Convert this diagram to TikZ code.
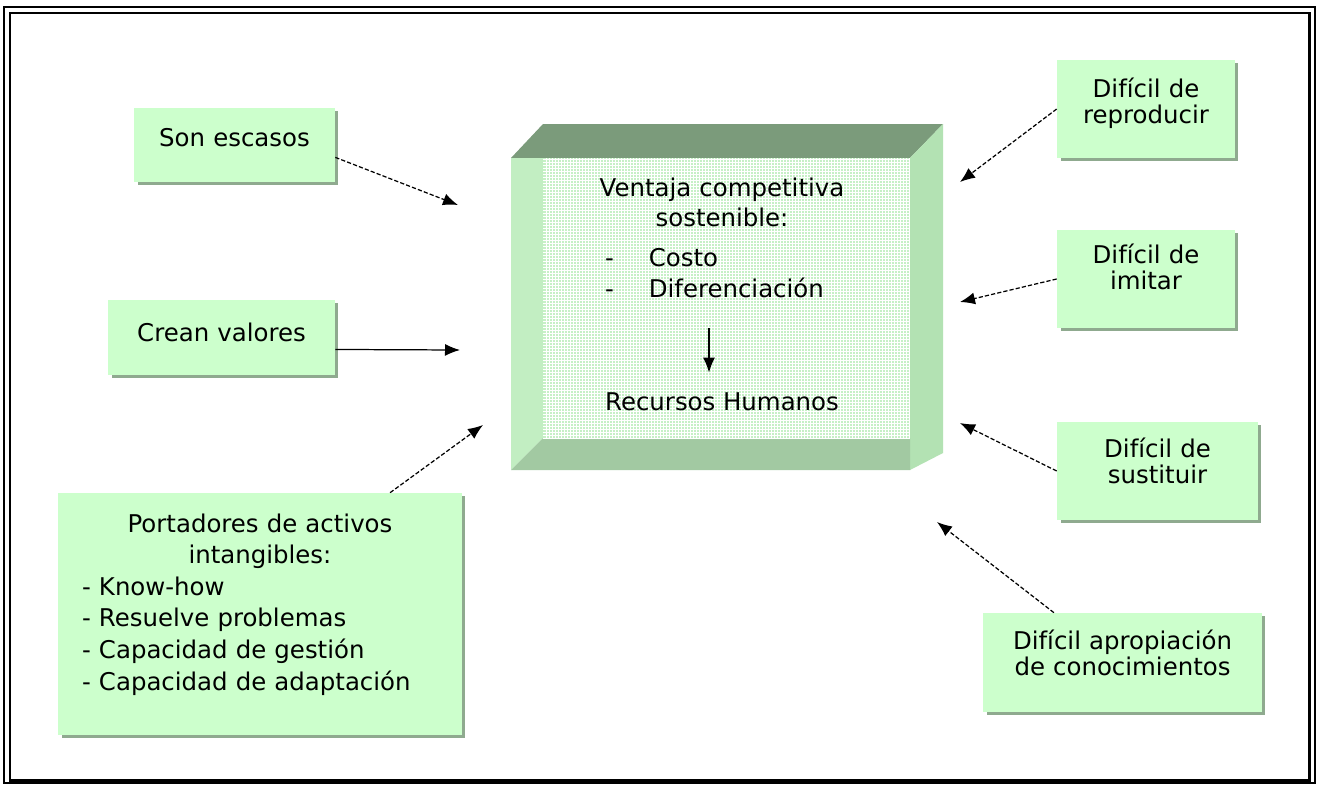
\documentclass[tikz,border=0pt]{standalone}
\usepackage{fontspec}
\setmainfont{DejaVu Sans}
\usetikzlibrary{arrows.meta,shadows}
\definecolor{verdecaja}{HTML}{CCFFCC}
\definecolor{sombra}{HTML}{8FAA8F}
\definecolor{tapa}{HTML}{7B9B7B}
\definecolor{lado}{HTML}{B3E2B3}
\definecolor{ladoizq}{HTML}{C2EEC2}
\definecolor{base}{HTML}{A2C9A2}
\definecolor{cara}{HTML}{C6F0C6}
\newcommand{\guion}[1]{\makebox[\linewidth][l]{\hspace{0.48cm}- #1}}
\newcommand{\guioncara}[1]{\makebox[\linewidth][l]{\hspace{0.66cm}-\hspace{0.7cm}#1}}
\begin{document}
\begin{tikzpicture}[x=0.02cm, y=-0.02cm,
    caja/.style={fill=verdecaja, inner sep=0pt, align=center,
      font=\fontsize{13.9}{14.8}\selectfont,
      drop shadow={shadow xshift=0.07cm, shadow yshift=-0.06cm, fill=sombra, opacity=1}},
    texto/.style={inner sep=0pt, align=center, font=\fontsize{13.9}{17.6}\selectfont},
    flecha/.style={dash pattern=on 2.4pt off 1.2pt, line width=0.7pt, -{Latex[length=0.3cm, width=0.24cm]}},
    punta/.style={line width=0.9pt, -{Latex[length=0.3cm, width=0.24cm]}}]
  \useasboundingbox (0,0) rectangle (1319,785);
  \fill[white] (0,0) rectangle (1319,785);
  \draw[line width=0.6pt] (4,7) rectangle (1315,783);
  \draw[line width=1.7pt] (10,13) rectangle (1309,780);

  % bloque central
  \fill[tapa] (511,158) -- (543,124) -- (943,124) -- (910,158) -- cycle;
  \fill[lado] (910,158) -- (943,124) -- (943,453) -- (910,470) -- cycle;
  \fill[ladoizq] (511,158) -- (543,158) -- (543,438) -- (511,470) -- cycle;
  \fill[base] (511,470) -- (543,438) -- (910,438) -- (910,470) -- cycle;
  \fill[cara] (543,158) rectangle (910,438);
  \draw[white, line width=0.3pt, step=0.06cm] (543,158) grid (910,438);

  \node[texto, text width=6cm, text depth=2.64cm, anchor=base] (ventaja) at (722,196)
    {Ventaja competitiva\\ sostenible:\\[0.18cm] \guioncara{Costo}\\ \guioncara{Diferenciación}};
  \node[texto, text height=0.74cm, anchor=base] (rrhh) at (722,410) {Recursos Humanos};
  \draw[punta] ([xshift=-0.26cm]ventaja.south) -- ([xshift=-0.26cm]rrhh.north);

  % cajas
  \node[caja, text width=4.02cm, text height=0.76cm, text depth=0.72cm] (escasos) at (234.5,145) {Son escasos};
  \node[caja, text width=4.54cm, text height=0.82cm, text depth=0.68cm] (valores) at (221.5,337.5) {Crean valores};
  \node[caja, text width=8.08cm, text height=0.78cm, text depth=4.06cm,
    font=\fontsize{13.9}{18}\selectfont] (portadores) at (260,614)
    {Portadores de activos\\ intangibles:\\ \guion{Know-how}\\ \guion{Resuelve problemas}\\
     \guion{Capacidad de gestión}\\ \guion{Capacidad de adaptación}};
  \node[caja, text width=3.56cm, text height=0.74cm, text depth=1.22cm] (reproducir) at (1146,109) {Difícil de\\ reproducir};
  \node[caja, text width=3.56cm, text height=0.66cm, text depth=1.30cm] (imitar) at (1146,279) {Difícil de\\ imitar};
  \node[caja, text width=4.02cm, text height=0.70cm, text depth=1.26cm] (sustituir) at (1157.5,471) {Difícil de\\ sustituir};
  \node[caja, text width=5.58cm, text height=0.72cm, text depth=1.26cm] (apropiacion) at (1122.5,662.5) {Difícil apropiación\\ de conocimientos};

  \coordinate (a1) at (458,205);
  \coordinate (a2) at (460,350);
  \coordinate (a3) at (483,425);
  \coordinate (a4) at (960,182);
  \coordinate (a5) at (960,302);
  \coordinate (a6) at (960,423);
  \coordinate (a7) at (937,522);

  \draw[flecha] (escasos.-7) -- (a1);
  \draw[flecha, solid] (valores.-6) -- (a2);
  \draw[flecha] (portadores.43) -- (a3);
  \draw[flecha] (reproducir.west) -- (a4);
  \draw[flecha] (imitar.west) -- (a5);
  \draw[flecha] (sustituir.west) -- (a6);
  \draw[flecha] (apropiacion.144) -- (a7);
\end{tikzpicture}
\end{document}
